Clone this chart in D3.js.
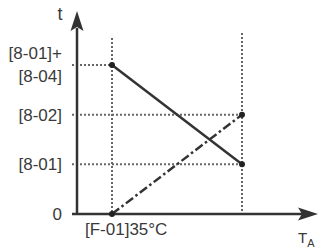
<!DOCTYPE html>
<html>
<head>
<meta charset="utf-8">
<script src="https://cdn.jsdelivr.net/npm/d3@7"></script>
<style>
  body{margin:0;background:#fff;}
  text{font-family:"Liberation Sans",Arial,sans-serif;fill:#3a3a3a;}
</style>
</head>
<body>
<div id="chart"></div>
<script>
// y levels (t) and their labels
var tLevels=[0,1,2,3];
var tLabels=["0","[8-01]","[8-02]","[8-01]+|[8-04]"];
// x positions (T_A)
var taValues=[35,50];
var taLabel="[F-01]35°C";
// series: solid line falls, dash-dot line rises
var solidT=[3,1];
var dashT=[0,2];

var width=321,height=250;
var svg=d3.select("#chart").append("svg")
    .attr("width",width)
    .attr("height",height);

var xScale=d3.scaleLinear().domain([35,50]).range([112,242]);
var yScale=d3.scaleLinear().domain([0,3]).range([214,65]);

var x0=77, y0=214;
var ink="#333";

// dotted guide lines
var guide="#666";
function dotted(x1,y1,x2,y2){
  svg.append("line")
    .attr("x1",x1).attr("y1",y1).attr("x2",x2).attr("y2",y2)
    .attr("stroke",guide).attr("stroke-width",2)
    .attr("stroke-dasharray","2,2");
}
dotted(xScale(taValues[0]),38,xScale(taValues[0]),y0);
dotted(xScale(taValues[1]),33,xScale(taValues[1]),y0);
dotted(72,yScale(3),xScale(taValues[0]),yScale(3));
dotted(72,yScale(2),xScale(taValues[1]),yScale(2));
dotted(72,yScale(1),xScale(taValues[1]),yScale(1));

// y axis labels
var yAxis=d3.axisLeft(yScale)
    .tickValues(tLevels)
    .tickSize(0)
    .tickPadding(15)
    .tickFormat(function(d,i){return tLabels[i];});
var gy=svg.append("g")
    .attr("transform","translate("+x0+",0)")
    .call(yAxis);
gy.select(".domain").remove();
gy.selectAll("text")
    .attr("font-size",17)
    .attr("fill","#3a3a3a")
    .style("font-family","'Liberation Sans',Arial,sans-serif")
    .each(function(d,i){
      var s=tLabels[i];
      if(s.indexOf("|")>=0){
        var parts=s.split("|");
        var t=d3.select(this).text("").attr("dy",null);
        t.append("tspan").attr("x",-15).attr("dy","-0.4em").text(parts[0]);
        t.append("tspan").attr("x",-15).attr("dy","1.35em").text(parts[1]);
      }
    });

// axes lines
svg.append("line").attr("x1",x0).attr("y1",y0+1).attr("x2",x0).attr("y2",28)
  .attr("stroke",ink).attr("stroke-width",2.5);
svg.append("line").attr("x1",72).attr("y1",y0).attr("x2",302).attr("y2",y0)
  .attr("stroke",ink).attr("stroke-width",2.5);
// arrowheads
svg.append("path")
  .attr("d","M"+x0+",11 L"+(x0+6.5)+",31 L"+x0+",27 L"+(x0-6.5)+",31 Z")
  .attr("fill",ink);
svg.append("path")
  .attr("d","M318,"+y0+" L298,"+(y0-6.5)+" L302,"+y0+" L298,"+(y0+6.5)+" Z")
  .attr("fill",ink);

// series lines
var line=d3.line()
    .x(function(d,i){return xScale(taValues[i]);})
    .y(function(d){return yScale(d);});
svg.append("path").datum(solidT)
  .attr("d",line).attr("fill","none")
  .attr("stroke",ink).attr("stroke-width",2.5);
svg.append("path").datum(dashT)
  .attr("d",line).attr("fill","none")
  .attr("stroke",ink).attr("stroke-width",2.5)
  .attr("stroke-dasharray","9,3,2.5,3");

// end points
var pts=[];
taValues.forEach(function(v,i){
  pts.push([v,solidT[i]]);
  pts.push([v,dashT[i]]);
});
svg.selectAll("circle.pt").data(pts).enter().append("circle")
  .attr("class","pt")
  .attr("cx",function(d){return xScale(d[0]);})
  .attr("cy",function(d){return yScale(d[1]);})
  .attr("r",3)
  .attr("fill","#222");

// axis titles and x label
svg.append("text").attr("x",60).attr("y",20)
  .attr("text-anchor","middle").attr("font-size",18).text("t");
svg.append("text").attr("x",xScale(taValues[0])-27).attr("y",235)
  .attr("font-size",17).text(taLabel);
var ta=svg.append("text").attr("x",298).attr("y",243).attr("font-size",15);
ta.append("tspan").text("T");
ta.append("tspan").attr("font-size",11).attr("dy",4).text("A");
</script>
</body>
</html>
